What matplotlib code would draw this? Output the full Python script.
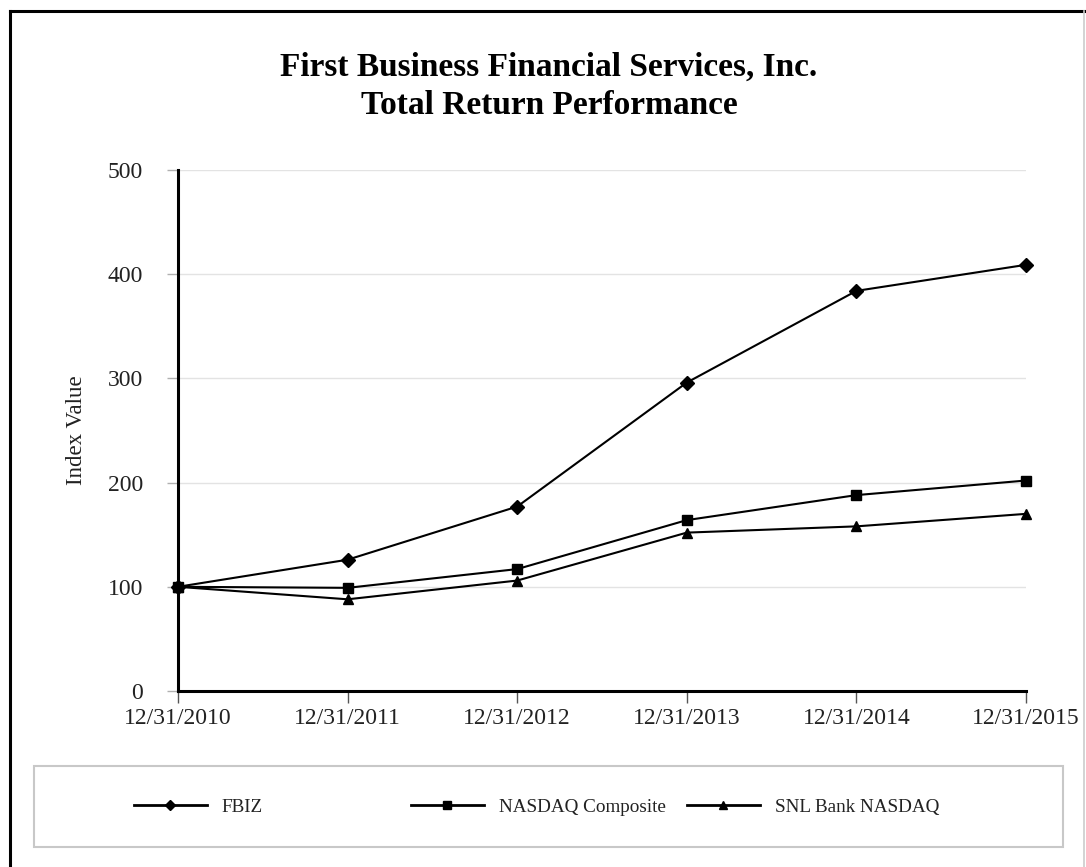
import matplotlib
matplotlib.use("Agg")
import matplotlib.pyplot as plt
from matplotlib.lines import Line2D

# data
dates = ["12/31/2010", "12/31/2011", "12/31/2012", "12/31/2013", "12/31/2014", "12/31/2015"]
fbiz = [100, 126, 177, 296, 384, 409]
nasdaq = [100, 99, 117, 164, 188, 202]
snl_bank = [100, 88, 106, 152, 158, 170]
y_ticks = [0, 100, 200, 300, 400, 500]

plt.rcParams['font.family'] = ['Liberation Serif', 'DejaVu Serif']

W, H = 1086, 867
fig = plt.figure(figsize=(W / 100, H / 100), dpi=100)

# outer frame (black top/left, grey right as in the scan)
fig.add_artist(Line2D([9.5 / W, 9.5 / W], [0, 1 - 11 / H], color='black', lw=2.2))
fig.add_artist(Line2D([9.5 / W, 1084 / W], [1 - 11 / H, 1 - 11 / H], color='black', lw=2.2))
fig.add_artist(Line2D([1084 / W, 1084 / W], [0, 1 - 11 / H], color='#cccccc', lw=1.2))

# title
fig.text(549 / W, 1 - 67 / H, "First Business Financial Services, Inc.",
         ha='center', va='center', fontsize=24, fontweight='bold')
fig.text(549 / W, 1 - 105 / H, "Total Return Performance",
         ha='center', va='center', fontsize=24, fontweight='bold')

ax = fig.add_axes([178 / W, 1 - 691 / H, (1026 - 178) / W, (691 - 170) / H])
x = list(range(len(dates)))

ax.plot(x, fbiz, color='black', lw=1.5, marker='D', ms=7, zorder=3, clip_on=False)
ax.plot(x, nasdaq, color='black', lw=1.5, marker='s', ms=7.5, zorder=3, clip_on=False)
ax.plot(x, snl_bank, color='black', lw=1.5, marker='^', ms=7, zorder=3, clip_on=False)

ax.set_xlim(0, 5)
ax.set_ylim(0, 500)
ax.set_xticks(x)
ax.set_xticklabels(dates)
ax.set_yticks(y_ticks)

for v in y_ticks[1:]:
    ax.axhline(v, color='#e3e3e3', lw=1, zorder=0)

for s in ['top', 'right']:
    ax.spines[s].set_visible(False)
ax.spines['left'].set_linewidth(2.2)
ax.spines['bottom'].set_linewidth(2.2)

ax.tick_params(axis='y', length=8, width=1, color='#b0b0b0', pad=17,
               labelsize=17, labelcolor='#222222')
ax.tick_params(axis='x', length=8.5, width=1, color='#555555', pad=4,
               labelsize=17, labelcolor='#222222')

ax.set_ylabel("Index Value", fontsize=16.5, color='#222222')
ax.yaxis.set_label_coords(-0.107, 0.5)

# legend box with three equally spaced entries
fig.add_artist(plt.Rectangle((34 / W, 1 - 847 / H), (1063 - 34) / W, (847 - 766) / H,
                             fill=False, edgecolor='#c8c8c8', lw=1.5))
entries = [("FBIZ", 'D', 5), ("NASDAQ Composite", 's', 5.5), ("SNL Bank NASDAQ", '^', 5.5)]
lefts = [134, 411, 687]
for (label, mk, ms), left in zip(entries, lefts):
    h = Line2D([], [], color='black', lw=2, marker=mk, ms=ms)
    fig.legend([h], [label], loc='center left', bbox_to_anchor=(left / W, 1 - 807 / H),
               frameon=False, fontsize=13.8, handlelength=3.8, handletextpad=0.78,
               borderpad=0, borderaxespad=0, labelcolor='#222222')

fig.savefig("out.png", dpi=100)
